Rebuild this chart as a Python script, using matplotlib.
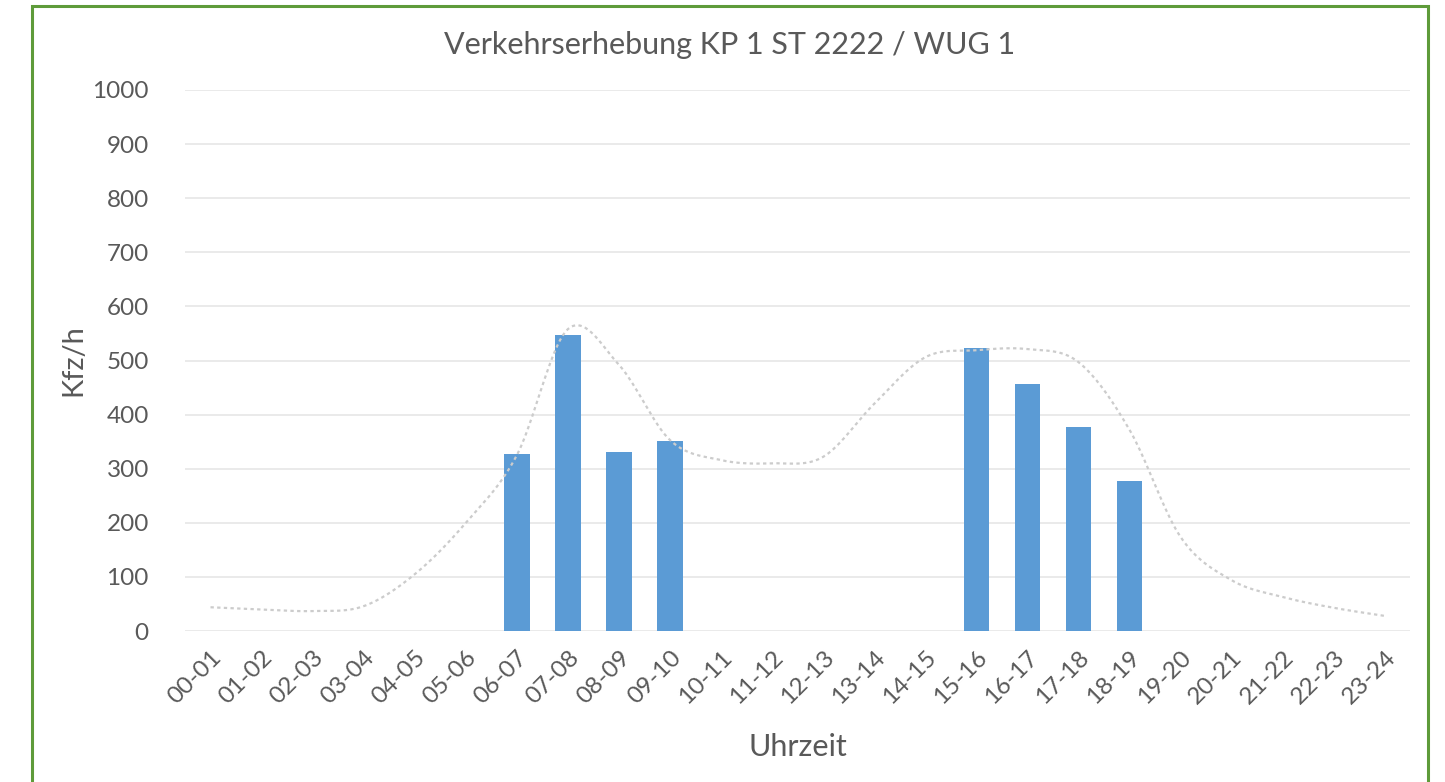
import numpy as np
import matplotlib.pyplot as plt
from matplotlib.patches import Rectangle

# =============================================================================
# DATA
# =============================================================================
hours = ["00-01", "01-02", "02-03", "03-04", "04-05", "05-06", "06-07", "07-08",
         "08-09", "09-10", "10-11", "11-12", "12-13", "13-14", "14-15", "15-16",
         "16-17", "17-18", "18-19", "19-20", "20-21", "21-22", "22-23", "23-24"]
counts = [0, 0, 0, 0, 0, 0, 327, 547, 330, 351, 0, 0, 0, 0, 0, 524,
          456, 377, 278, 0, 0, 0, 0, 0]
trend = [44, 40, 37, 46, 105, 200, 325, 558, 492, 353, 316, 310, 322, 420,
         506, 519, 521, 497, 372, 174, 94, 63, 43, 28]

title = "Verkehrserhebung KP 1 ST 2222 / WUG 1"
GREY = "#595959"


def smooth_path(xs, ys, steps=20):
    # Catmull-Rom curve through the points, like Excel's "smoothed line"
    xs = np.asarray(xs, float); ys = np.asarray(ys, float)
    px = np.concatenate([[xs[0]], xs, [xs[-1]]])
    py = np.concatenate([[ys[0]], ys, [ys[-1]]])
    t = np.linspace(0, 1, steps, endpoint=False)[:, None]
    out_x, out_y = [], []
    for i in range(1, len(px) - 2):
        for p, out in ((px, out_x), (py, out_y)):
            p0, p1, p2, p3 = p[i - 1], p[i], p[i + 1], p[i + 2]
            seg = 0.5 * (2 * p1 + (-p0 + p2) * t + (2 * p0 - 5 * p1 + 4 * p2 - p3) * t**2
                         + (-p0 + 3 * p1 - 3 * p2 + p3) * t**3)
            out.extend(seg.ravel())
    out_x.append(xs[-1]); out_y.append(ys[-1])
    return np.array(out_x), np.array(out_y)


# =============================================================================
# PLOT
# =============================================================================
plt.rcParams["font.family"] = ["Lato", "DejaVu Sans"]

fig = plt.figure(figsize=(14.45, 7.82), dpi=100)
ax = fig.add_axes([0.128, 0.193, 0.848, 0.692])

x = np.arange(len(hours))
ax.bar(x, counts, width=0.5, color="#5B9BD5", zorder=3)
sx, sy = smooth_path(x, trend)
ax.plot(sx, sy, color="#CCCCCC", lw=1.6, ls=(0, (1.5, 1.5)), zorder=4)

ax.set_xlim(-0.5, len(hours) - 0.5)
ax.set_ylim(0, 1000)
ax.set_yticks(np.arange(0, 1001, 100))
ax.set_xticks(x)
ax.set_xticklabels(hours, rotation=45, ha="right", rotation_mode="anchor")
ax.tick_params(axis="x", length=0, labelsize=17.5, colors=GREY, pad=11)
ax.tick_params(axis="y", length=0, labelsize=17.5, colors=GREY, pad=26)
ax.grid(axis="y", color="#E6E6E6", lw=1.2, zorder=0)
ax.set_axisbelow(True)
for s in ax.spines.values():
    s.set_visible(False)

ax.set_ylabel("Kfz/h", fontsize=21, color=GREY, labelpad=4)
ax.set_xlabel("Uhrzeit", fontsize=22, color=GREY, labelpad=18)
fig.text(0.505, 0.942, title, ha="center", va="center", fontsize=22, color=GREY)

# green frame round the chart, open at the bottom edge
fig.patches.append(Rectangle((32 / 1445, -0.05), (1428 - 32) / 1445, 1 - 6 / 782 + 0.05,
                             transform=fig.transFigure, fill=False,
                             edgecolor="#5E9B3A", lw=2.2))

fig.savefig("out.png", dpi=100)
